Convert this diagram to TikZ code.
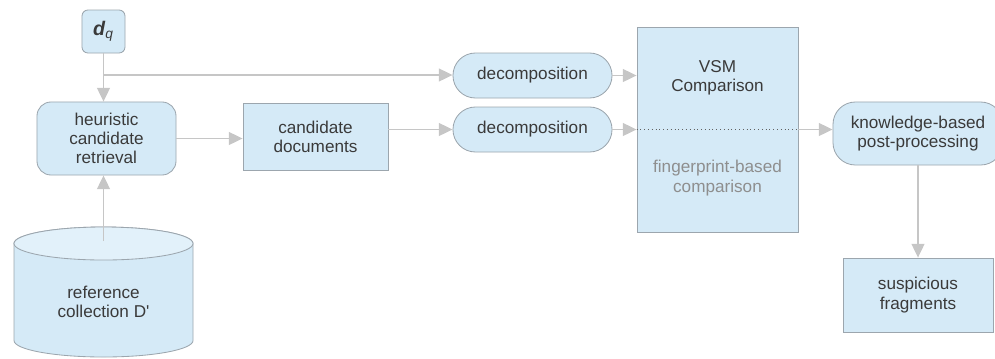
\documentclass[tikz,border=0pt]{standalone}
\usepackage{fontspec}
\setmainfont{Liberation Sans}
\usepackage{xcolor}
\usepackage{tikz}
\usetikzlibrary{arrows.meta, positioning}
\definecolor{boxfill}{HTML}{D5EAF7}
\definecolor{boxtop}{HTML}{E2F1FA}
\definecolor{boxline}{HTML}{9CA6AE}
\definecolor{flowline}{HTML}{C6C6C6}
\definecolor{ink}{HTML}{3A3A3A}
\definecolor{faint}{HTML}{8E8E8E}
\tikzset{
    pipeline/.style={font={\fontsize{12.2}{13.6}\selectfont}, text=ink},
    pipe box/.style={draw=boxline, fill=boxfill, line width=0.6pt,
        align=center, inner sep=2pt},
    pipe arrow/.style={-{Triangle[length=0.34cm, width=0.32cm]},
        draw=flowline, line width=1pt},
    pipe line/.style={draw=flowline, line width=1pt},
    pipe dots/.style={draw=ink!80, dotted, line width=0.7pt},
}

\begin{document}
\begin{tikzpicture}[
    pipeline, x=0.025cm, y=-0.025cm,
    query/.style={pipe box, rounded corners=0.15cm,
        minimum width=1.075cm, minimum height=1.075cm},
    task/.style={pipe box, rounded corners=0.35cm,
        minimum width=3.475cm, minimum height=1.825cm},
    store/.style={pipe box, minimum width=3.625cm, minimum height=1.675cm},
    pill/.style={pipe box, rounded corners=0.56cm,
        minimum width=3.975cm, minimum height=1.125cm},
    stage/.style={pipe box, minimum width=4.025cm, minimum height=5.125cm},
    label/.style={align=center, inner sep=1pt},
  ]
    \useasboundingbox (0,0) rectangle (995,358);

    % inputs
    \node[query] (dq) at (103.5,31.5)
        {\fontsize{14}{14}\selectfont\textbf{\textit{d}}\textsubscript{\textit{q}}};
    \node[task] (heur) at (106.5,138.5) {heuristic\\candidate\\retrieval};
    \node[store] (cand) at (315.5,136.5) {candidate\\documents};

    % reference collection (cylinder)
    \path[fill=boxfill, draw=boxline, line width=0.6pt]
        (14,243.5) -- (14,340.5)
        arc[start angle=180, end angle=360, x radius=2.2375cm, y radius=0.4125cm]
        -- (193,243.5)
        arc[start angle=0, end angle=180, x radius=2.2375cm, y radius=0.4125cm]
        -- cycle;
    \path[fill=boxtop, draw=boxline, line width=0.6pt]
        (103.5,243.5) ellipse[x radius=2.2375cm, y radius=0.4125cm];
    \node[label] (refcol) at (103.5,302) {reference\\collection D\textquotesingle};
    \coordinate (cyltop) at (103.5,241);

    % decomposition and comparison
    \node[pill] (dec1) at (532.5,75.5) {decomposition};
    \node[pill] (dec2) at (532.5,129.5) {decomposition};
    \node[stage] (vsm) at (717.5,129.5) {};
    \node[label] (vsmtxt) at (717.5,78) {VSM\\Comparison};
    \node[label, text=faint] (fptxt) at (717.5,178) {fingerprint-based\\comparison};

    % output
    \node[pill, minimum width=4.25cm, minimum height=1.575cm] (know)
        at (918,133.5) {knowledge-based\\post-processing};
    \node[store, minimum width=3.75cm, minimum height=1.85cm] (susp)
        at (918,295) {suspicious\\fragments};

    \coordinate (split) at (103.5,75);
    \draw[pipe arrow] (dq.south) -- (dq.south |- heur.north);
    \draw[pipe arrow] (split) -- (split -| dec1.west);
    \draw[pipe arrow] (cyltop) -- (cyltop |- heur.south);
    \draw[pipe arrow] (heur.east) -- (heur.east -| cand.west);
    \draw[pipe arrow] (dec2.west -| cand.east) -- (dec2.west);
    \draw[pipe arrow] (dec1.east) -- (dec1.east -| vsm.west);
    \draw[pipe arrow] (dec2.east) -- (dec2.east -| vsm.west);
    \draw[pipe dots] (dec2.east -| vsm.west) -- (dec2.east -| vsm.east);
    \draw[pipe arrow] (dec2.east -| vsm.east) -- (dec2.east -| know.west);
    \draw[pipe arrow] (know.south) -- (susp.north);
\end{tikzpicture}
\end{document}
